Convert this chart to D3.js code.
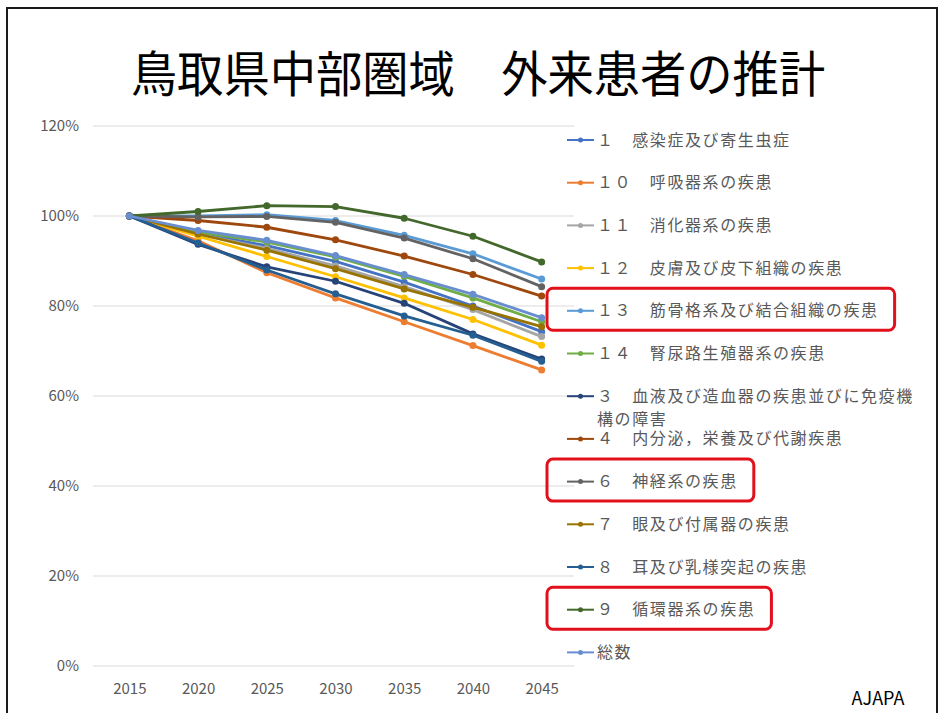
<!DOCTYPE html>
<html>
<head>
<meta charset="utf-8">
<script src="https://cdn.jsdelivr.net/npm/d3@7/dist/d3.min.js"></script>
<style>
  html, body { margin: 0; padding: 0; background: #fff; }
  svg { display: block; }
  text { font-family: "Noto Sans CJK JP", "Noto Sans", sans-serif; }
</style>
</head>
<body>
<svg id="chart" width="942" height="713"></svg>
<script>
// Years on the horizontal axis
const years = ["2015", "2020", "2025", "2030", "2035", "2040", "2045"];

// Y-axis ticks (ratio to 2015)
const yTicks = [0, 0.2, 0.4, 0.6, 0.8, 1.0, 1.2];

// Legend labels, in legend order
const seriesNames = [
  "１　感染症及び寄生虫症",
  "１０　呼吸器系の疾患",
  "１１　消化器系の疾患",
  "１２　皮膚及び皮下組織の疾患",
  "１３　筋骨格系及び結合組織の疾患",
  "１４　腎尿路生殖器系の疾患",
  "３　血液及び造血器の疾患並びに免疫機構の障害",
  "４　内分泌，栄養及び代謝疾患",
  "６　神経系の疾患",
  "７　眼及び付属器の疾患",
  "８　耳及び乳様突起の疾患",
  "９　循環器系の疾患",
  "総数"
];

// Outpatient ratio relative to 2015, one array per disease group
const v1  = [1, 0.962, 0.934, 0.899, 0.853, 0.800, 0.743];
const v10 = [1, 0.945, 0.874, 0.818, 0.765, 0.712, 0.658];
const v11 = [1, 0.960, 0.928, 0.889, 0.843, 0.792, 0.732];
const v12 = [1, 0.955, 0.910, 0.865, 0.818, 0.770, 0.713];
const v13 = [1, 1.000, 1.003, 0.990, 0.957, 0.916, 0.860];
const v14 = [1, 0.965, 0.942, 0.909, 0.866, 0.818, 0.765];
const v3  = [1, 0.937, 0.887, 0.855, 0.806, 0.738, 0.682];
const v4  = [1, 0.990, 0.975, 0.947, 0.911, 0.870, 0.822];
const v6  = [1, 0.998, 0.999, 0.986, 0.951, 0.905, 0.843];
const v7  = [1, 0.960, 0.924, 0.883, 0.838, 0.797, 0.754];
const v8  = [1, 0.940, 0.880, 0.827, 0.778, 0.735, 0.677];
const v9  = [1, 1.010, 1.023, 1.021, 0.995, 0.955, 0.898];
const vTotal = [1, 0.968, 0.946, 0.912, 0.870, 0.826, 0.774];

const seriesValues = [v1, v10, v11, v12, v13, v14, v3, v4, v6, v7, v8, v9, vTotal];

// Office-style palette
const colors = ["#4472C4", "#ED7D31", "#A5A5A5", "#FFC000", "#5B9BD5", "#70AD47",
                "#264478", "#9E480E", "#636363", "#997300", "#255E91", "#43682B", "#698ED0"];

// Legend entries that get a red highlight frame
const highlighted = ["１３　筋骨格系及び結合組織の疾患", "６　神経系の疾患", "９　循環器系の疾患"];

const series = seriesNames.map((name, i) => ({
  name, color: colors[i],
  points: years.map((y, j) => ({ year: y, value: seriesValues[i][j] }))
}));

const svg = d3.select("#chart");

// Slide frame
svg.append("rect")
  .attr("x", 7).attr("y", 8).attr("width", 930).attr("height", 720)
  .attr("fill", "none").attr("stroke", "#1a1a1a").attr("stroke-width", 2);

// Title (slightly condensed)
svg.append("text")
  .attr("transform", "translate(478,92) scale(0.945,1)")
  .attr("text-anchor", "middle")
  .attr("font-size", 49)
  .attr("fill", "#000")
  .text("鳥取県中部圏域　外来患者の推計");

const x = d3.scalePoint().domain(years).range([95, 576]).padding(0.5);
const y = d3.scaleLinear().domain([0, 1.2]).range([666, 126]);

// Gridlines
svg.append("g").selectAll("line")
  .data(yTicks).join("line")
  .attr("x1", 93).attr("x2", 574)
  .attr("y1", d => y(d)).attr("y2", d => y(d))
  .attr("stroke", "#d9d9d9").attr("stroke-width", 1);

// Y axis labels
const yAxis = d3.axisLeft(y).tickValues(yTicks).tickFormat(d3.format(".0%")).tickSize(0).tickPadding(0);
const gy = svg.append("g").attr("transform", "translate(79,0)").call(yAxis);
gy.select(".domain").remove();
gy.selectAll("text").attr("font-size", 15).attr("fill", "#595959")
  .attr("font-family", "\"Noto Sans CJK JP\", sans-serif");

// X axis labels
const xAxis = d3.axisBottom(x).tickSize(0).tickPadding(0);
const gx = svg.append("g").attr("transform", "translate(0,683)").call(xAxis);
gx.select(".domain").remove();
gx.selectAll("text").attr("font-size", 15).attr("fill", "#595959")
  .attr("font-family", "\"Noto Sans CJK JP\", sans-serif");

// Lines and markers
const line = d3.line().x(d => x(d.year)).y(d => y(d.value));
const gLines = svg.append("g");
series.forEach(s => {
  const g = gLines.append("g");
  g.append("path").datum(s.points)
    .attr("d", line).attr("fill", "none")
    .attr("stroke", s.color).attr("stroke-width", 2.8)
    .attr("stroke-linejoin", "round");
  g.selectAll("circle").data(s.points).join("circle")
    .attr("cx", d => x(d.year)).attr("cy", d => y(d.value))
    .attr("r", 3.5).attr("fill", s.color);
});

// Legend
const legendY0 = 140, legendStep = 42.7, wrapAt = 18;
const legend = svg.append("g");
series.forEach((s, i) => {
  const ly = legendY0 + i * legendStep;
  const g = legend.append("g");
  g.append("line").attr("x1", 567).attr("x2", 594).attr("y1", ly).attr("y2", ly)
    .attr("stroke", s.color).attr("stroke-width", 2);
  g.append("circle").attr("cx", 580.5).attr("cy", ly).attr("r", 2.5).attr("fill", s.color);
  const t = g.append("text").attr("x", 597).attr("y", ly + 5.5)
    .attr("font-size", 16).attr("letter-spacing", 1.6).attr("fill", "#595959");
  if (s.name.length > wrapAt) {
    // long label wraps onto a second line
    t.append("tspan").text(s.name.slice(0, wrapAt));
    t.append("tspan").attr("x", 597).attr("dy", 23).text(s.name.slice(wrapAt));
  } else {
    t.text(s.name);
  }
});

// Red highlight frames around selected legend entries
legend.selectAll("text").each(function () {
  const txt = d3.select(this).text();
  if (highlighted.includes(txt)) {
    const bb = this.getBBox();
    const cy = bb.y + bb.height / 2;
    legend.append("rect")
      .attr("x", 547).attr("y", cy - 21)
      .attr("width", bb.x + bb.width - 547 + 16).attr("height", 42)
      .attr("rx", 6).attr("ry", 6)
      .attr("fill", "none").attr("stroke", "#e2101a").attr("stroke-width", 3);
  }
});

// Source label
svg.append("text")
  .attr("x", 878).attr("y", 705)
  .attr("text-anchor", "middle")
  .attr("font-size", 18)
  .attr("font-family", "\"Liberation Sans\", Arial, sans-serif")
  .attr("fill", "#000")
  .text("AJAPA");
</script>
</body>
</html>
